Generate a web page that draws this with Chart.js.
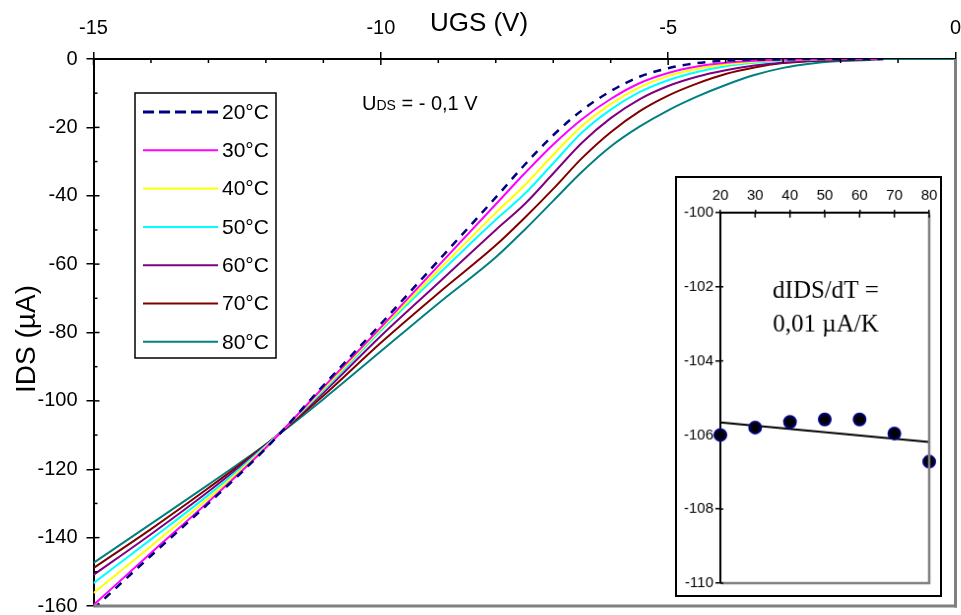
<!DOCTYPE html>
<html>
<head>
<meta charset="utf-8">
<script src="https://cdn.jsdelivr.net/npm/chart.js@4.4.1/dist/chart.umd.min.js"></script>
<style>
  html, body { margin: 0; padding: 0; background: #fff; }
  #wrap { position: relative; width: 961px; height: 615px; }
  #main { position: absolute; left: 0; top: 0; }
  #inset { position: absolute; left: 675px; top: 176px; border: 2px solid #000; background: #fff; }
</style>
</head>
<body>
<div id="wrap">
  <canvas id="main" width="961" height="615"></canvas>
  <canvas id="inset" width="267" height="421"></canvas>
</div>
<script>
// gate voltage UGS (V), shared by all curves
var ugs = [-15, -14, -13, -12, -11, -10, -9, -8, -7.5, -7, -6.5, -6, -5.5, -5, -4.5, -4, -3.5, -3, -2.5, -2, -1.5, -1.25, 0];

// drain current IDS (µA) per temperature
var i20 = [-160.8, -145.3, -130, -113.9, -95.5, -77.5, -59, -40.5, -31, -22.3, -15, -9.4, -5.2, -2.7, -1.2, -0.5, -0.2, -0.1, 0, 0, 0, 0, null];
var i30 = [-159.7, -144.5, -129.5, -113.7, -96, -78.5, -60.5, -42.5, -33.5, -25, -17.6, -11.7, -7.1, -4.1, -2.2, -1.1, -0.5, -0.2, -0.1, 0, 0, 0, null];
var i40 = [-156.2, -142.5, -128.5, -113.4, -96.5, -79, -61.8, -45, -37, -28, -19.6, -13.2, -8.3, -5, -2.9, -1.6, -0.8, -0.3, -0.1, 0, 0, 0, null];
var i50 = [-153.3, -140.5, -127.5, -113.1, -97, -79.5, -63, -47, -39.5, -30.5, -21.5, -14.8, -9.7, -6.2, -3.8, -2.1, -1.1, -0.5, -0.2, 0, 0, 0, null];
var i60 = [-150.9, -139, -126.5, -112.9, -97.6, -81, -65.5, -50, -42.5, -33.5, -24.5, -17.3, -11.8, -7.9, -5.2, -3.3, -1.9, -1, -0.5, -0.2, 0, 0, null];
var i70 = [-148.9, -137.5, -125.5, -112.8, -98.5, -83, -68.5, -54.5, -46.5, -38, -29, -21.4, -15.3, -10.7, -7.2, -4.4, -2.5, -1.2, -0.6, -0.3, -0.1, 0, null];
var i80 = [-147.4, -136, -124.5, -112.7, -99.5, -85.5, -71.5, -58, -50, -41.5, -33, -25.6, -19.8, -15, -11, -7.6, -4.7, -2.6, -1.3, -0.6, -0.3, 0, 0];

var labels = ["20°C", "30°C", "40°C", "50°C", "60°C", "70°C", "80°C"];
var colors = ["#000080", "#FF00FF", "#FFFF00", "#00FFFF", "#800080", "#800000", "#008080"];
var series = [i20, i30, i40, i50, i60, i70, i80];

// inset: IDS at the crossing point vs temperature
var temps = [20, 30, 40, 50, 60, 70, 80];
var idsT = [-106.0, -105.8, -105.65, -105.58, -105.58, -105.96, -106.72];
var fitT = [20, 80];
var fitIds = [-105.66, -106.19];

var sans = "'Liberation Sans', Arial, sans-serif";
var serif = "'Liberation Serif', 'Times New Roman', serif";

function pts(xs, ys) {
    return xs.map(function (x, i) { return {x: x, y: ys[i]}; });
}

// fixed plot box, no extra room for overflowing tick labels
function fixBox(size) {
    return function (s) {
        if (s.isHorizontal()) s.height = size; else s.width = size;
        s.paddingLeft = 0; s.paddingRight = 0; s.paddingTop = 0; s.paddingBottom = 0;
    };
}

var datasets = series.map(function (s, k) {
    return {
        label: labels[k],
        data: pts(ugs, s),
        borderColor: colors[k],
        borderWidth: k == 0 ? 2.5 : 2,
        borderDash: k == 0 ? [8, 7] : [],
        pointRadius: 0,
        fill: false,
        cubicInterpolationMode: 'monotone'
    };
});

function line(ctx, x1, y1, x2, y2) {
    ctx.beginPath();
    ctx.moveTo(x1, y1);
    ctx.lineTo(x2, y2);
    ctx.stroke();
}

var mainDeco = {
    id: 'mainDeco',
    afterDraw: function (chart) {
        var ctx = chart.ctx, a = chart.chartArea;
        var x = chart.scales.x, y = chart.scales.y;
        ctx.save();
        // grey right and bottom frame
        ctx.strokeStyle = '#808080';
        ctx.lineWidth = 3;
        line(ctx, a.right, a.top, a.right, a.bottom + 1.5);
        line(ctx, a.left, a.bottom, a.right + 1.5, a.bottom);
        // inner parts of ticks + minor ticks
        ctx.strokeStyle = '#000';
        ctx.lineWidth = 1.5;
        for (var v = -15; v < 0; v++) {
            var px = x.getPixelForValue(v);
            line(ctx, px, a.top, px, a.top + (v % 5 == 0 ? 6 : 4));
        }
        for (var w = 0; w >= -150; w -= 10) {
            var py = y.getPixelForValue(w);
            line(ctx, a.left, py, a.left + (w % 20 == 0 ? 6 : 4), py);
        }
        // axis titles
        ctx.fillStyle = '#000';
        ctx.textAlign = 'center';
        ctx.textBaseline = 'alphabetic';
        ctx.font = '26px ' + sans;
        ctx.fillText('UGS (V)', 479, 31);
        ctx.save();
        ctx.translate(35, 339);
        ctx.rotate(-Math.PI / 2);
        ctx.font = '28px ' + sans;
        ctx.fillText('IDS (µA)', 0, 0);
        ctx.restore();
        // U_DS note
        ctx.textAlign = 'left';
        var tx = 362;
        ctx.font = '20px ' + sans;
        ctx.fillText('U', tx, 110);
        tx += ctx.measureText('U').width;
        ctx.font = '14px ' + sans;
        ctx.fillText('DS', tx, 110);
        tx += ctx.measureText('DS').width;
        ctx.font = '20px ' + sans;
        ctx.fillText(' = - 0,1 V', tx, 110);
        // legend box
        ctx.fillStyle = '#fff';
        ctx.fillRect(135, 93, 141, 265);
        ctx.strokeStyle = '#000';
        ctx.lineWidth = 1.5;
        ctx.strokeRect(135, 93, 141, 265);
        ctx.font = '21px ' + sans;
        ctx.textBaseline = 'middle';
        chart.data.datasets.forEach(function (d, k) {
            var ry = 112 + k * 38.3;
            ctx.strokeStyle = d.borderColor;
            ctx.lineWidth = k == 0 ? 3 : 2;
            ctx.setLineDash(k == 0 ? [11, 5] : []);
            line(ctx, 143, ry, 218, ry);
            ctx.setLineDash([]);
            ctx.fillStyle = '#000';
            ctx.fillText(d.label, 222, ry + 1);
        });
        ctx.restore();
    }
};

new Chart(document.getElementById('main'), {
    type: 'line',
    data: {datasets: datasets},
    options: {
        responsive: false,
        animation: false,
        layout: {padding: {left: 0, top: 0, right: 5.5, bottom: 9}},
        plugins: {legend: {display: false}, tooltip: {enabled: false}},
        scales: {
            x: {
                type: 'linear', position: 'top', min: -15, max: 0,
                ticks: {stepSize: 5, color: '#000', font: {family: sans, size: 20}, padding: 12, maxRotation: 0},
                grid: {drawOnChartArea: false, tickLength: 7, color: '#000', lineWidth: 1.5},
                border: {color: '#000', width: 2},
                afterFit: fixBox(59)
            },
            y: {
                type: 'linear', min: -160, max: 0,
                ticks: {stepSize: 20, color: '#000', font: {family: sans, size: 20}, padding: 9},
                grid: {drawOnChartArea: false, tickLength: 7, color: '#000', lineWidth: 1.5},
                border: {color: '#000', width: 2},
                afterFit: fixBox(93.5)
            }
        }
    },
    plugins: [mainDeco]
});

var insetDeco = {
    id: 'insetDeco',
    afterDraw: function (chart) {
        var ctx = chart.ctx, a = chart.chartArea;
        var x = chart.scales.x, y = chart.scales.y;
        ctx.save();
        ctx.strokeStyle = '#808080';
        ctx.lineWidth = 2.5;
        line(ctx, a.right, a.top + 2, a.right, a.bottom + 1);
        line(ctx, a.left + 1, a.bottom, a.right + 1, a.bottom);
        ctx.strokeStyle = '#000';
        ctx.lineWidth = 1.5;
        temps.forEach(function (t) {
            var px = x.getPixelForValue(t);
            line(ctx, px, a.top, px, a.top + 5);
        });
        for (var v = -100; v >= -110; v -= 2) {
            var py = y.getPixelForValue(v);
            line(ctx, a.left, py, a.left + 3, py);
        }
        ctx.fillStyle = '#000';
        ctx.font = '25px ' + serif;
        ctx.textAlign = 'center';
        ctx.textBaseline = 'middle';
        ctx.fillText('dIDS/dT =', 151, 114);
        ctx.fillText('0,01 µA/K', 151, 148);
        ctx.restore();
    }
};

new Chart(document.getElementById('inset'), {
    type: 'scatter',
    data: {
        datasets: [{
            data: pts(temps, idsT),
            backgroundColor: '#000',
            borderColor: '#000080',
            borderWidth: 2,
            pointRadius: 6,
            clip: false
        }, {
            type: 'line',
            data: pts(fitT, fitIds),
            borderColor: '#000',
            borderWidth: 2,
            pointRadius: 0,
            fill: false
        }]
    },
    options: {
        responsive: false,
        animation: false,
        layout: {padding: {left: 0, top: 0, right: 11, bottom: 12}},
        plugins: {legend: {display: false}, tooltip: {enabled: false}},
        scales: {
            x: {
                type: 'linear', position: 'top', min: 20, max: 80,
                ticks: {stepSize: 10, color: '#000', font: {family: sans, size: 15}, padding: 5, maxRotation: 0},
                grid: {drawOnChartArea: false, tickLength: 3, color: '#000', lineWidth: 1.5},
                border: {color: '#000', width: 2},
                afterFit: fixBox(35)
            },
            y: {
                type: 'linear', min: -110, max: -100,
                ticks: {stepSize: 2, color: '#000', font: {family: sans, size: 15}, padding: 2},
                grid: {drawOnChartArea: false, tickLength: 5, color: '#000', lineWidth: 1.5},
                border: {color: '#000', width: 2},
                afterFit: fixBox(44)
            }
        }
    },
    plugins: [insetDeco]
});
</script>
</body>
</html>
